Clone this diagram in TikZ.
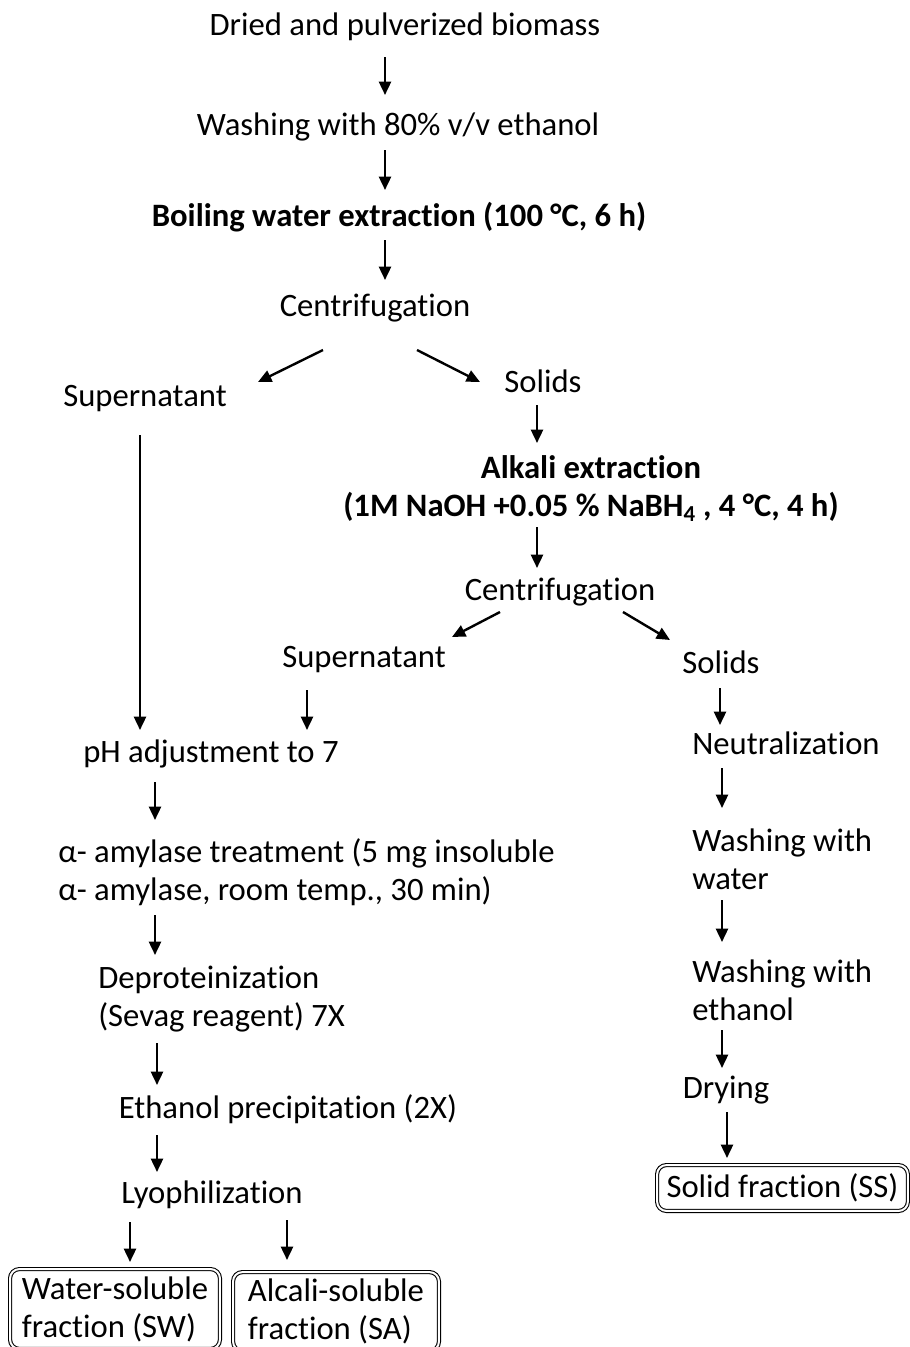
\documentclass[tikz,border=0pt]{standalone}
\usepackage{fontspec}
\setmainfont{Carlito}[Ligatures=NoCommon]
\usepackage{tikz}
\usetikzlibrary{arrows.meta, calc}

\begin{document}
\begin{tikzpicture}[
        x=0.75pt, y=-0.75pt,
        every node/.style={font=\fontsize{24.5}{28.5}\selectfont, inner sep=0pt},
        stage/.style={text height=17pt, text depth=6pt},
        major/.style={font=\fontsize{24.5}{28.5}\selectfont\bfseries},
        multi/.style={align=left, anchor=west},
        result/.style={draw, double, double distance=1.5pt, line width=0.8pt, rounded corners=7pt, align=left},
        flow/.style={-{Triangle[length=10pt, width=9pt]}, line width=1.8pt}
    ]
        \useasboundingbox (0,0) rectangle (910,1347);

        % Main line
        \node[stage] (bio) at (405,28) {Dried and pulverized biomass};
        \node[stage] (wash) at (398,128) {Washing with 80\% v/v ethanol};
        \node[stage, major] (boil) at (399,219) {Boiling water extraction (100 °C, 6 h)};
        \node[stage] (cen1) at (375,309) {Centrifugation};
        \node[stage] (sup1) at (145,399) {Supernatant};
        \node[stage] (sol1) at (543,385) {Solids};

        % Alkali branch
        \node[major, align=center] (alk) at (591,488.5) {Alkali extraction\\(1M NaOH +0.05 \% NaBH\textsubscript{4} , 4 °C, 4 h)};
        \node[stage] (cen2) at (560,593) {Centrifugation};
        \node[stage] (sup2) at (364,660) {Supernatant};
        \node[stage] (sol2) at (721,666) {Solids};

        % Soluble fractions
        \node[stage] (ph) at (211,755) {pH adjustment to 7};
        \node[multi] (amy) at (58,872) {α- amylase treatment (5 mg insoluble\\α- amylase, room temp., 30 min)};
        \node[multi] (dep) at (98,999) {Deproteinization\\(Sevag reagent) 7X};
        \node[stage] (eth) at (288,1111) {Ethanol precipitation (2X)};
        \node[stage] (lyo) at (212,1196) {Lyophilization};
        \node[result, minimum width=157.4pt, minimum height=59.9pt] (sw) at (115,1309) {Water-soluble\\fraction (SW)};
        \node[result, minimum width=154.4pt, minimum height=59.1pt] (sa) at (336,1311.5) {Alcali-soluble\\fraction (SA)};

        % Solid fraction
        \node[stage] (neu) at (786,747) {Neutralization};
        \node[multi] (wwat) at (692,859.5) {Washing with\\water};
        \node[multi] (weth) at (692,990.5) {Washing with\\ethanol};
        \node[stage] (dry) at (726,1091) {Drying};
        \node[result, minimum width=188.1pt, minimum height=34.4pt] (ss) at (782.5,1188) {Solid fraction (SS)};

        % Arrows
        \draw[flow] ($(bio)+(-20,29)$) -- ($(wash)+(-13,-33)$);
        \draw[flow] ($(wash)+(-13,22)$) -- ($(boil)+(-14,-29)$);
        \draw[flow] ($(boil)+(-14,21)$) -- ($(cen1)+(10,-29)$);
        \draw[flow] ($(cen1)+(-52,41)$) -- ($(sup1)+(113,-17)$);
        \draw[flow] ($(cen1)+(42,41)$) -- ($(sol1)+(-63,-3)$);
        \draw[flow] ($(sol1)+(-6,20)$) -- ($(alk)+(-54,-45.5)$);
        \draw[flow] ($(alk)+(-54,38.5)$) -- ($(cen2)+(-23,-25)$);
        \draw[flow] ($(cen2)+(-60,19)$) -- ($(sup2)+(88,-23)$);
        \draw[flow] ($(cen2)+(63,19)$) -- ($(sol2)+(-51,-26)$);
        \draw[flow] ($(sup1)+(-5,36)$) -- ($(ph)+(-71,-25)$);
        \draw[flow] ($(sup2)+(-57,30)$) -- ($(ph)+(96,-25)$);
        \draw[flow] ($(ph)+(-56,27)$) -- ($(amy.west)+(97,-52)$);
        \draw[flow] ($(amy.west)+(97,43)$) -- ($(dep.west)+(57,-44)$);
        \draw[flow] ($(dep.west)+(59,44)$) -- ($(eth)+(-131,-26)$);
        \draw[flow] ($(eth)+(-131,24)$) -- ($(lyo)+(-55,-24)$);
        \draw[flow] ($(lyo)+(-82,26)$) -- ($(sw)+(15,-47)$);
        \draw[flow] ($(lyo)+(75,24)$) -- ($(sa)+(-49,-51.5)$);
        \draw[flow] ($(sol2)+(-1,22)$) -- ($(neu)+(-66,-22)$);
        \draw[flow] ($(neu)+(-64,21)$) -- ($(wwat.west)+(30,-51.5)$);
        \draw[flow] ($(wwat.west)+(30,40.5)$) -- ($(weth.west)+(30,-48.5)$);
        \draw[flow] ($(weth.west)+(30,39.5)$) -- ($(dry)+(-4,-23)$);
        \draw[flow] ($(dry)+(1,21)$) -- ($(ss)+(-55.5,-30)$);
    \end{tikzpicture}
\end{document}
